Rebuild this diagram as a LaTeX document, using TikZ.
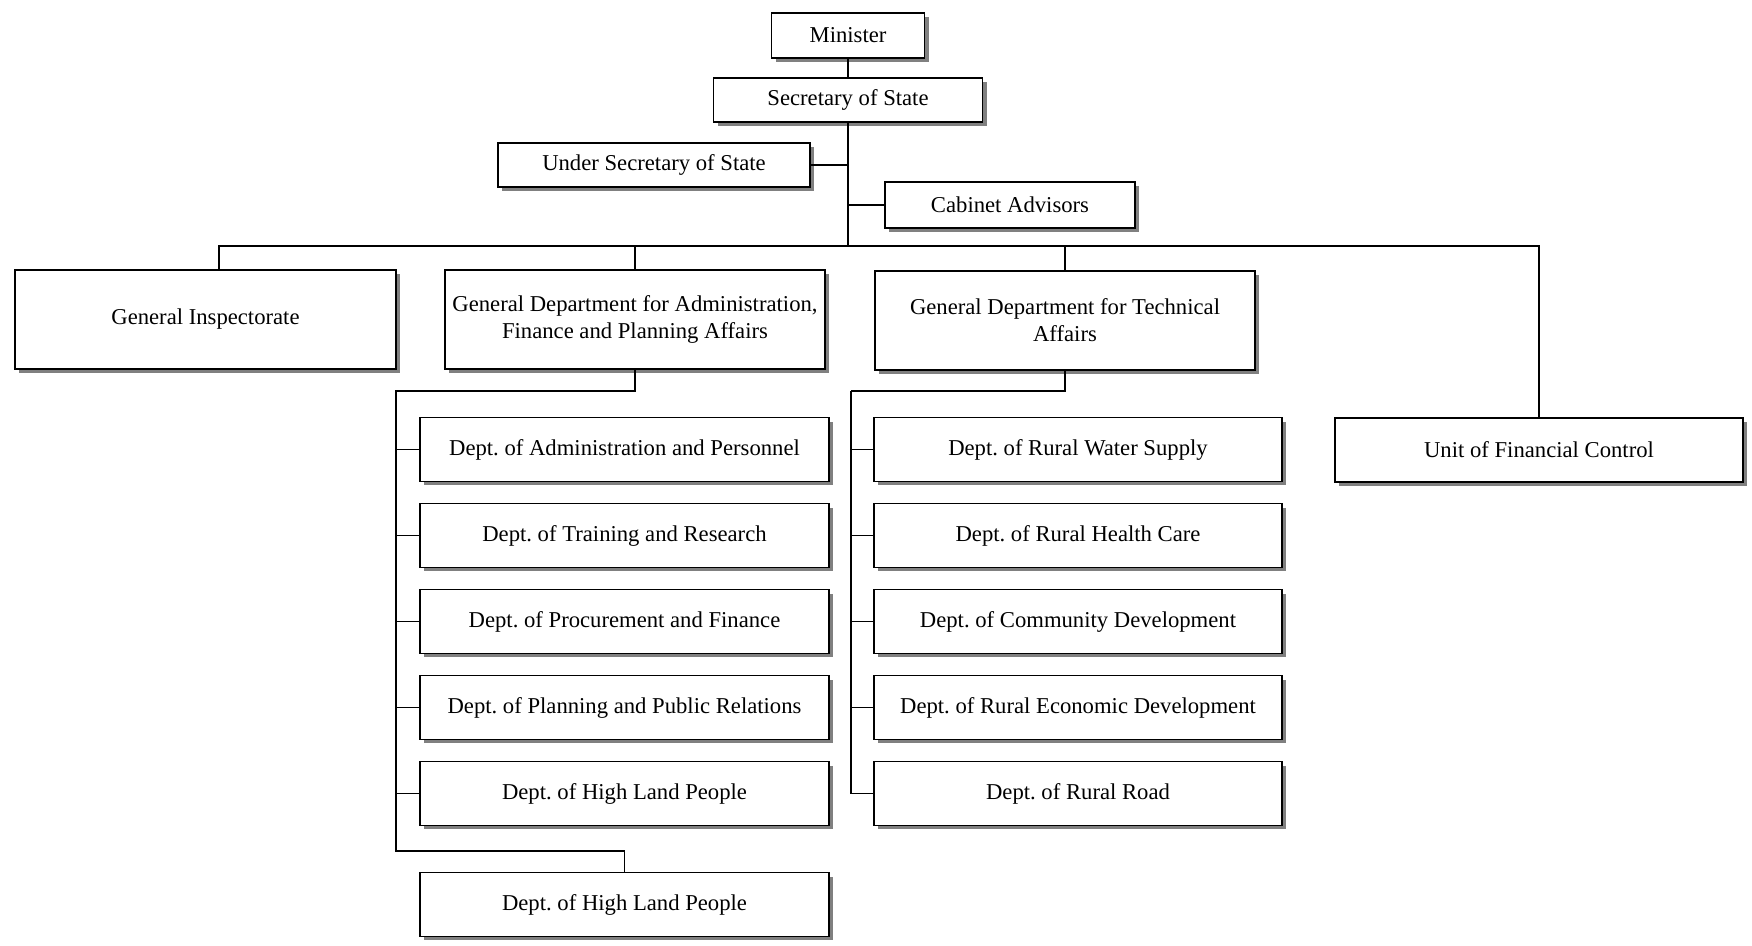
\documentclass[tikz,border=0pt]{standalone}
\usepackage{fontspec}
\setmainfont{Liberation Serif}
\usetikzlibrary{shadows}
\frenchspacing

\begin{document}
\begin{tikzpicture}[
    unit/.style={draw, fill=white, line width=0.8pt, align=center,
      font=\fontsize{12.9}{15.3}\selectfont,
      drop shadow={shadow xshift=0.08cm, shadow yshift=-0.08cm, fill=gray, opacity=1}},
    link/.style={line width=0.8pt}
  ]
  \useasboundingbox (0,0) rectangle (35.04,-18.92);

  % Top of the ministry
  \node[unit, minimum width=3.06cm, minimum height=0.9cm] (minister) at (16.96,-0.71) {Minister};
  \node[unit, minimum width=5.38cm, minimum height=0.88cm] (sec) at (16.96,-2.0) {Secretary of State};
  \node[unit, minimum width=6.24cm, minimum height=0.88cm] (under) at (13.08,-3.30) {Under Secretary of State};
  \node[unit, minimum width=5.0cm, minimum height=0.92cm] (cab) at (20.2,-4.10) {Cabinet Advisors};
  \coordinate (bus) at (16.96,-4.92);

  % General departments
  \node[unit, minimum width=7.62cm, minimum height=1.98cm] (geninsp) at (4.11,-6.39) {General Inspectorate};
  \node[unit, minimum width=7.6cm, minimum height=1.98cm] (gdadmin) at (12.70,-6.39)
    {General Department for Administration,\\ Finance and Planning Affairs};
  \node[unit, minimum width=7.6cm, minimum height=1.98cm] (gdtech) at (21.30,-6.41)
    {General Department for Technical\\ Affairs};
  \node[unit, minimum width=8.16cm, minimum height=1.28cm] (ufc) at (30.78,-9.0) {Unit of Financial Control};

  % Departments under each general department
  \foreach \txt [count=\i] in {Dept. of Administration and Personnel, Dept. of Training and Research,
      Dept. of Procurement and Finance, Dept. of Planning and Public Relations, Dept. of High Land People} {
    \pgfmathsetmacro{\ypos}{-8.99-(\i-1)*1.72}
    \node[unit, minimum width=8.18cm, minimum height=1.27cm] (a\i) at (12.49,\ypos) {\txt};
  }
  \node[unit, minimum width=8.18cm, minimum height=1.27cm] (a6) at (12.49,-18.09) {Dept. of High Land People};

  \foreach \txt [count=\i] in {Dept. of Rural Water Supply, Dept. of Rural Health Care,
      Dept. of Community Development, Dept. of Rural Economic Development, Dept. of Rural Road} {
    \pgfmathsetmacro{\ypos}{-8.99-(\i-1)*1.72}
    \node[unit, minimum width=8.16cm, minimum height=1.27cm] (t\i) at (21.56,\ypos) {\txt};
  }

  % Connectors
  \draw[link] (minister) -- (sec);
  \draw[link] (sec.south) -- (bus);
  \draw[link] (under.east) -- (under.east -| bus);
  \draw[link] (cab.west) -- (cab.west -| bus);
  \draw[link] ([xshift=0.27cm]geninsp.north) |- (bus -| ufc.north) -- (ufc.north);
  \draw[link] (gdadmin.north) -- (gdadmin.north |- bus);
  \draw[link] (gdtech.north) -- (gdtech.north |- bus);

  \coordinate (abend) at (7.92,-7.82);
  \coordinate (abot) at (7.92,-17.02);
  \draw[link] (gdadmin.south) |- (abend) -- (abot) -| (a6.north);
  \foreach \i in {1,...,5}
    \draw[link] (abend) |- (a\i.west);

  \coordinate (tbend) at (17.02,-7.82);
  \draw[link] (gdtech.south) |- (tbend);
  \foreach \i in {1,...,5}
    \draw[link] (tbend) |- (t\i.west);
\end{tikzpicture}
\end{document}
